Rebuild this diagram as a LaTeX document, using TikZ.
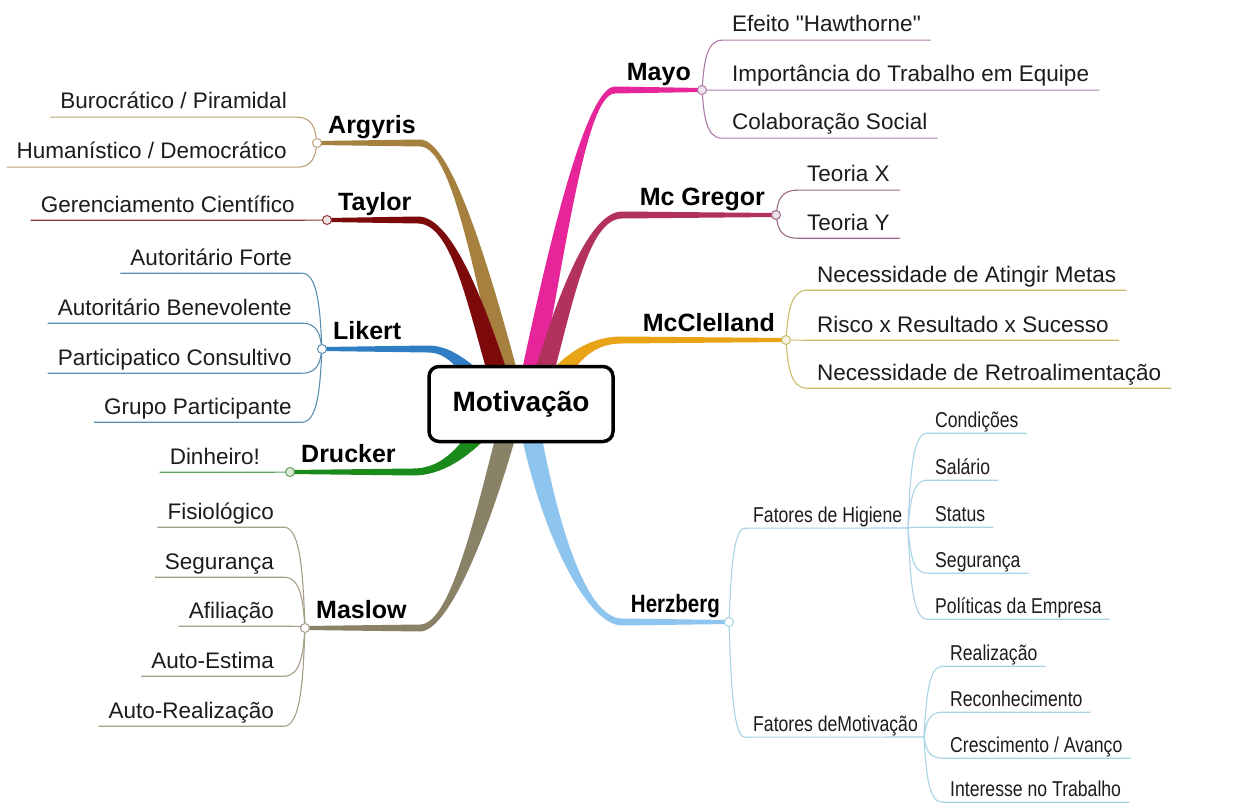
\documentclass[tikz,border=0pt]{standalone}
\usepackage{fontspec}
\usepackage{graphicx}
\setmainfont{Liberation Sans}
\newfontfamily\qfont{Liberation Sans}
\usetikzlibrary{calc}
\pgfdeclarelayer{bg}
\pgfsetlayers{bg,main}

\definecolor{cMayo}{HTML}{E6259B} \definecolor{lMayo}{HTML}{B07AA8}
\definecolor{cMcg}{HTML}{B2315E}  \definecolor{lMcg}{HTML}{9A6A88}
\definecolor{cMcc}{HTML}{E8A317}  \definecolor{lMcc}{HTML}{C8BE6A}
\definecolor{cHer}{HTML}{8EC5EE}  \definecolor{lHer}{HTML}{A9D3E6}
\definecolor{cArg}{HTML}{A5803F}  \definecolor{lArg}{HTML}{BCA27A}
\definecolor{cTay}{HTML}{7D0A0A}  \definecolor{lTay}{HTML}{8B3A3A}
\definecolor{cLik}{HTML}{2F7EC3}  \definecolor{lLik}{HTML}{5A8FB0}
\definecolor{cDru}{HTML}{1A8A1A}  \definecolor{lDru}{HTML}{5DA35D}
\definecolor{cMas}{HTML}{8A8266}  \definecolor{lMas}{HTML}{A59E88}
\definecolor{txt}{HTML}{1C1C1C}

\newcommand{\hx}[1]{\scalebox{0.82}[1]{#1}}

% tapered main branch: colour, root, control1, control2, bend, end node
\newcommand{\mbranch}[6]{%
  \coordinate (R) at #2; \coordinate (P1) at #3; \coordinate (P2) at #4; \coordinate (B) at #5;
  \coordinate (RL) at ($(R)!10pt!90:(P1)$);
  \coordinate (RR) at ($(R)!10pt!-90:(P1)$);
  \coordinate (BL) at ($(B)!3.5pt!-90:(P2)$);
  \coordinate (BR) at ($(B)!3.5pt!90:(P2)$);
  \coordinate (EL) at ($(#6)!2pt!-90:(B)$);
  \coordinate (ER) at ($(#6)!2pt!90:(B)$);
  \fill[#1] (RL) .. controls ($(P1)+(RL)-(R)$) and ($(P2)+(BL)-(B)$) .. (BL)
     -- (EL) -- (ER) -- (BR) .. controls ($(P2)+(BR)-(B)$) and ($(P1)+(RR)-(R)$) .. (RR) -- cycle;
}
% thin fork connectors
\newcommand{\rfork}[3]{\draw[forkline,#3] (#1) .. controls ($(#1)!0.5!(#1 |- #2.south west)+(2,0)$) and ($(#1 |- #2.south west)+(4,0)$) .. (#2.south west) -- (#2.south east);}
\newcommand{\rforkto}[4]{\draw[forkline,#4] (#1) .. controls ($(#1)!0.5!(#1 |- #2.south west)+(2,0)$) and ($(#1 |- #2.south west)+(4,0)$) .. (#2.south west) -- (#3);}
\newcommand{\lfork}[3]{\draw[forkline,#3] (#1) .. controls ($(#1)!0.5!(#1 |- #2.south east)+(-2,0)$) and ($(#1 |- #2.south east)+(-4,0)$) .. (#2.south east) -- (#2.south west);}

\begin{document}
\begin{tikzpicture}[x=1pt,y=-1pt,
  ctext/.style={font=\fontsize{22.5}{27}\selectfont, text=txt, text height=16pt, text depth=5pt, inner ysep=3pt, inner xsep=10pt},
  htext/.style={font=\fontsize{21.5}{26}\selectfont, text=txt, text height=15pt, text depth=5pt, inner ysep=1pt, inner xsep=8pt},
  blabel/.style={font=\fontsize{25}{30}\selectfont\bfseries, inner sep=0pt, text=black},
  hlabel/.style={font=\fontsize{25}{30}\selectfont\bfseries, inner sep=0pt, text=black},
  fcirc/.style={circle, minimum size=9pt, inner sep=0pt, line width=1pt, draw},
  forkline/.style={line width=1.1pt},
  centerbox/.style={draw=black, fill=white, line width=3.5pt, rounded corners=10pt,
     minimum width=184pt, minimum height=75pt, font=\fontsize{28}{34}\selectfont\bfseries, text=black}
]
% ---------- centre ----------
\node[centerbox] (mot) at (521,404) {Motivação};

% ---------- fork circles ----------
\node[fcirc, draw=lMayo, fill=lMayo!20] (mayC) at (702,90) {};
\node[fcirc, draw=lMcg, fill=lMcg!20]   (mcgC) at (776,215) {};
\node[fcirc, draw=lMcc, fill=lMcc!20]   (mccC) at (786,340) {};
\node[fcirc, draw=lHer, fill=white]     (herC) at (729,622) {};
\node[fcirc, draw=lArg, fill=white]     (argC) at (317,143) {};
\node[fcirc, draw=lTay, fill=lTay!15]   (tayC) at (327,220) {};
\node[fcirc, draw=lLik, fill=white]     (likC) at (322,349) {};
\node[fcirc, draw=lDru, fill=lDru!20]   (druC) at (290,472) {};
\node[fcirc, draw=lMas, fill=white]     (masC) at (305,628) {};

% ---------- main labels ----------
\node[blabel, anchor=base east] (mayL) at (691,81)  {Mayo};
\node[blabel, anchor=base east] (mcgL) at (765,206) {Mc Gregor};
\node[blabel, anchor=base east] (mccL) at (775,331) {McClelland};
\node[hlabel, anchor=base east] (herL) at (720,612) {\hx{Herzberg}};
\node[blabel, anchor=base west] (argL) at (328,133.5) {Argyris};
\node[blabel, anchor=base west] (tayL) at (338,210.5) {Taylor};
\node[blabel, anchor=base west] (likL) at (333,339.5) {Likert};
\node[blabel, anchor=base west] (druL) at (301,462.5) {Drucker};
\node[blabel, anchor=base west] (masL) at (316,618.5) {Maslow};

% ---------- right children ----------
\node[ctext, anchor=base west] (may1) at (722,32)  {Efeito {\qfont"}Hawthorne{\qfont"}};
\node[ctext, anchor=base west] (may2) at (722,82)  {Importância do Trabalho em Equipe};
\node[ctext, anchor=base west] (may3) at (722,130) {Colaboração Social};
\node[ctext, anchor=base west] (mcg1) at (797,182) {Teoria X};
\node[ctext, anchor=base west] (mcg2) at (797,230) {Teoria Y};
\node[ctext, anchor=base west] (mcc1) at (807,282) {Necessidade de Atingir Metas};
\node[ctext, anchor=base west] (mcc2) at (807,332) {Risco x Resultado x Sucesso};
\node[ctext, anchor=base west] (mcc3) at (807,380) {Necessidade de Retroalimentação};

\node[htext, anchor=base west] (her1) at (745,522) {\hx{Fatores de Higiene}};
\node[htext, anchor=base west] (her2) at (745,731) {\hx{Fatores deMotivação}};
\coordinate (higF) at (908,528);
\coordinate (motF) at (924,737);
\node[htext, anchor=base west] (hyg1) at (927,427) {\hx{Condições}};
\node[htext, anchor=base west] (hyg2) at (927,474) {\hx{Salário}};
\node[htext, anchor=base west] (hyg3) at (927,521) {\hx{Status}};
\node[htext, anchor=base west] (hyg4) at (927,567) {\hx{Segurança}};
\node[htext, anchor=base west] (hyg5) at (927,613) {\hx{Políticas da Empresa}};
\node[htext, anchor=base west] (mo1) at (942,660) {\hx{Realização}};
\node[htext, anchor=base west] (mo2) at (942,706) {\hx{Reconhecimento}};
\node[htext, anchor=base west] (mo3) at (942,752) {\hx{Crescimento / Avanço}};
\node[htext, anchor=base west] (mo4) at (942,796) {\hx{Interesse no Trabalho}};

% ---------- left children ----------
\node[ctext, anchor=base east] (arg1) at (297,109) {Burocrático / Piramidal};
\node[ctext, anchor=base east] (arg2) at (297,159) {Humanístico / Democrático};
\node[ctext, anchor=base east] (tay1) at (305,212) {Gerenciamento Científico};
\node[ctext, anchor=base east] (lik1) at (302,265) {Autoritário Forte};
\node[ctext, anchor=base east] (lik2) at (302,315) {Autoritário Benevolente};
\node[ctext, anchor=base east] (lik3) at (302,365) {Participatico Consultivo};
\node[ctext, anchor=base east] (lik4) at (302,414) {Grupo Participante};
\node[ctext, anchor=base east] (dru1) at (270,464) {Dinheiro!};
\node[ctext, anchor=base east] (mas1) at (284,519) {Fisiológico};
\node[ctext, anchor=base east] (mas2) at (284,569) {Segurança};
\node[ctext, anchor=base east] (mas3) at (284,618) {Afiliação};
\node[ctext, anchor=base east] (mas4) at (284,668) {Auto-Estima};
\node[ctext, anchor=base east] (mas5) at (284,718) {Auto-Realização};

\begin{pgfonlayer}{bg}
\path[use as bounding box, fill=white] (0,0) rectangle (1247,805);
% ---------- main branches ----------
\mbranch{cArg}{($(mot)+(-5,1)$)}{(488,300)}{(455,143)}{(420,143)}{argC}
\mbranch{cTay}{($(mot)+(-15,-4)$)}{(480,320)}{(455,220)}{(418,220)}{tayC}
\mbranch{cMayo}{($(mot)+(5,-4)$)}{(555,260)}{(585,90)}{(615,90)}{mayC}
\mbranch{cMcg}{($(mot)+(15,-4)$)}{(560,320)}{(585,215)}{(622,215)}{mcgC}
\mbranch{cMcc}{($(mot)+(20,-4)$)}{(565,365)}{(585,340)}{(622,340)}{mccC}
\mbranch{cLik}{($(mot)+(-20,1)$)}{(470,375)}{(455,349)}{(428,349)}{likC}
\mbranch{cDru}{($(mot)+(-20,1)$)}{(475,440)}{(450,472)}{(413,472)}{druC}
\mbranch{cMas}{($(mot)+(-7,1)$)}{(488,505)}{(452,628)}{(420,628)}{masC}
\mbranch{cHer}{($(mot)+(5,1)$)}{(545,520)}{(585,622)}{(622,622)}{herC}
% ---------- forks ----------
\rfork{mayC}{may1}{lMayo} \rfork{mayC}{may2}{lMayo} \rfork{mayC}{may3}{lMayo}
\rfork{mcgC}{mcg1}{lMcg} \rfork{mcgC}{mcg2}{lMcg}
\rfork{mccC}{mcc1}{lMcc} \rfork{mccC}{mcc2}{lMcc} \rfork{mccC}{mcc3}{lMcc}
\rforkto{herC}{her1}{higF}{lHer} \rforkto{herC}{her2}{motF}{lHer}
\rfork{higF}{hyg1}{lHer} \rfork{higF}{hyg2}{lHer} \rfork{higF}{hyg3}{lHer} \rfork{higF}{hyg4}{lHer} \rfork{higF}{hyg5}{lHer}
\rfork{motF}{mo1}{lHer} \rfork{motF}{mo2}{lHer} \rfork{motF}{mo3}{lHer} \rfork{motF}{mo4}{lHer}
\lfork{argC}{arg1}{lArg} \lfork{argC}{arg2}{lArg}
\lfork{tayC}{tay1}{lTay}
\lfork{likC}{lik1}{lLik} \lfork{likC}{lik2}{lLik} \lfork{likC}{lik3}{lLik} \lfork{likC}{lik4}{lLik}
\lfork{druC}{dru1}{lDru}
\lfork{masC}{mas1}{lMas} \lfork{masC}{mas2}{lMas} \lfork{masC}{mas3}{lMas} \lfork{masC}{mas4}{lMas} \lfork{masC}{mas5}{lMas}
\end{pgfonlayer}
\end{tikzpicture}
\end{document}
